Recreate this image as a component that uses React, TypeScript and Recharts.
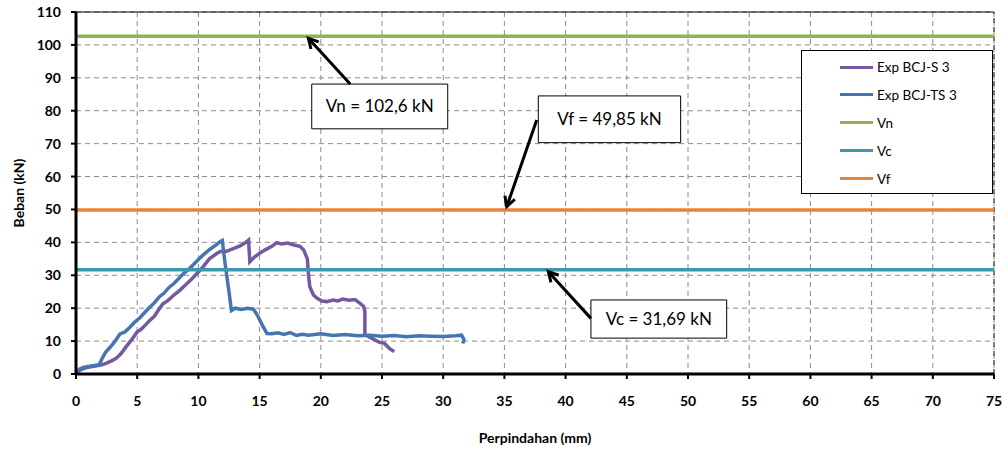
import React from 'react';
import { LineChart, Line, XAxis, YAxis, CartesianGrid, Legend, ReferenceLine, ReferenceArea, Label } from 'recharts';

const xTicks = [0, 5, 10, 15, 20, 25, 30, 35, 40, 45, 50, 55, 60, 65, 70, 75];
const yTicks = [0, 10, 20, 30, 40, 50, 60, 70, 80, 90, 100, 110];

const seriesNames = ['Exp BCJ-S 3', 'Exp BCJ-TS 3', 'Vn', 'Vc', 'Vf'];
const seriesColors = ['#7459A0', '#4676B0', '#8FB354', '#3F97AF', '#E5853C'];

const bcjS3: [number, number][] = [
  [0, 0.5], [0.4, 1.3], [0.9, 2.0], [1.3, 2.3], [1.7, 2.5], [2.1, 2.8], [2.5, 3.3], [2.9, 4.0], [3.3, 4.8],
  [3.7, 6.3], [4.1, 8.3], [4.5, 10.2], [5.0, 12.8], [5.3, 13.5], [5.7, 15.0], [6.0, 16.2], [6.4, 17.5],
  [6.8, 19.8], [7.1, 21.3], [7.5, 22.3], [8.0, 24.0], [8.5, 25.5], [9.0, 27.3], [9.5, 29.0], [9.9, 30.6],
  [10.3, 32.2], [10.6, 33.6], [10.9, 35.0], [11.2, 35.8], [11.5, 36.6], [11.8, 37.2], [12.3, 37.3],
  [12.9, 38.2], [13.4, 38.9], [13.8, 39.8], [14.1, 40.7], [14.2, 34.1], [14.6, 35.6], [15.0, 36.7],
  [15.5, 37.8], [16.0, 38.8], [16.4, 39.9], [16.8, 39.5], [17.3, 39.8], [17.8, 39.2], [18.3, 38.8],
  [18.6, 37.7], [18.9, 35.0], [19.0, 30.0], [19.1, 26.5], [19.4, 24.0], [19.7, 23.0], [20.1, 22.2],
  [20.5, 22.0], [21.0, 22.5], [21.4, 22.2], [21.8, 22.8], [22.3, 22.4], [22.8, 22.6], [23.2, 21.5],
  [23.5, 20.5], [23.6, 19.0], [23.6, 15.0], [23.6, 12.0], [24.0, 11.2], [24.5, 10.2], [24.8, 9.6],
  [25.2, 9.3], [25.6, 7.8], [26.0, 6.8],
];

const bcjTS3: [number, number][] = [
  [0, 0.7], [0.3, 1.5], [0.6, 2.0], [1.0, 2.3], [1.5, 2.6], [1.9, 2.8], [2.1, 4.5], [2.4, 6.5], [2.8, 8.2],
  [3.2, 10.0], [3.6, 12.2], [4.0, 12.8], [4.4, 14.2], [4.8, 15.8], [5.2, 17.0], [5.6, 18.6], [6.0, 20.2],
  [6.4, 21.6], [6.8, 23.4], [7.2, 24.6], [7.6, 26.3], [8.0, 27.5], [8.4, 29.0], [8.8, 30.6], [9.2, 31.8],
  [9.6, 33.3], [10.0, 34.8], [10.4, 36.2], [10.8, 37.5], [11.2, 38.6], [11.5, 39.4], [11.8, 40.3],
  [11.95, 40.6], [12.2, 33.0], [12.5, 25.0], [12.7, 19.3], [13.0, 20.0], [13.5, 19.6], [14.0, 20.0],
  [14.5, 19.7], [14.8, 18.0], [15.2, 15.0], [15.6, 12.3], [16.0, 12.2], [16.5, 12.5], [17.0, 12.0],
  [17.5, 12.6], [18.0, 11.7], [18.5, 12.1], [19.0, 11.8], [20.0, 12.2], [21.0, 11.7], [22.0, 12.0],
  [23.0, 11.6], [24.0, 11.8], [25.0, 11.5], [26.0, 11.7], [27.0, 11.3], [28.0, 11.6], [29.0, 11.5],
  [30.0, 11.4], [31.0, 11.6], [31.5, 11.8], [31.7, 10.5], [31.6, 9.3],
];

const vn = 102.6;
const vc = 31.69;
const vf = 49.85;
const xRange = [0, 75];

// annotation boxes [x1, x2, y1, y2] and arrows [xFrom, yFrom, xTo, yTo] in data units
const annotTexts = ['Vn = 102,6 kN', 'Vf = 49,85 kN', 'Vc = 31,69 kN'];
const annotBoxes = [[19.26, 30.37, 74.5, 88.1], [37.77, 49.4, 70.3, 84.5], [42.07, 53.16, 10.9, 22.5]];
const annotArrows = [[22.4, 88.1, 18.98, 102.0], [37.64, 77.2, 35.19, 50.85], [42.07, 16.9, 38.59, 31.1]];

const toPts = (arr: [number, number][]) => arr.map(([x, y]) => ({ x, y }));
const hLine = (v: number) => xRange.map((x) => ({ x, y: v }));

const seriesData = [toPts(bcjS3), toPts(bcjTS3), hLine(vn), hLine(vc), hLine(vf)];

const FONT = 'Lato, "Open Sans", sans-serif';

const Arrow = (props: any) => {
  const { x1, y1, x2, y2 } = props;
  if ([x1, y1, x2, y2].some((v) => typeof v !== 'number' || isNaN(v))) return null;
  const ang = Math.atan2(y2 - y1, x2 - x1);
  const L = 11;
  const a1 = ang + Math.PI - 0.5;
  const a2 = ang + Math.PI + 0.5;
  return (
    <g>
      <line x1={x1} y1={y1} x2={x2} y2={y2} stroke="#000" strokeWidth={3} />
      <polyline
        points={`${x2 + L * Math.cos(a1)},${y2 + L * Math.sin(a1)} ${x2},${y2} ${x2 + L * Math.cos(a2)},${y2 + L * Math.sin(a2)}`}
        fill="none"
        stroke="#000"
        strokeWidth={3}
      />
    </g>
  );
};

const renderLegend = () => (
  <div
    style={{
      width: 192,
      height: 144,
      boxSizing: 'border-box',
      border: '1px solid #000',
      background: '#fff',
      position: 'relative',
      fontFamily: FONT,
      fontSize: 13.5,
      color: '#000',
    }}
  >
    {seriesNames.map((name, i) => (
      <div
        key={name}
        style={{
          position: 'absolute',
          left: 38,
          top: 16 + i * 27.9 - 9,
          height: 18,
          display: 'flex',
          alignItems: 'center',
          whiteSpace: 'nowrap',
        }}
      >
        <span style={{ display: 'inline-block', width: 33, height: 3, background: seriesColors[i] }} />
        <span style={{ marginLeft: 4 }}>{name}</span>
      </div>
    ))}
  </div>
);

export default function App() {
  return (
    <div style={{ position: 'absolute', left: 0, top: 0, width: 1005, height: 453, background: '#fff' }}>
      <LineChart width={1005} height={453} margin={{ top: 12, right: 11, bottom: 0, left: 0 }}>
        <CartesianGrid strokeDasharray="5 4" stroke="#8c8c8c" strokeWidth={1} />
        <XAxis
          type="number"
          dataKey="x"
          domain={[0, 75]}
          ticks={xTicks}
          interval={0}
          height={79}
          axisLine={{ stroke: '#000', strokeWidth: 3 }}
          tickLine={{ stroke: '#000', strokeWidth: 2 }}
          tickSize={5}
          tickMargin={17}
          tick={{ fontFamily: FONT, fontSize: 14, fontWeight: 700, fill: '#000' }}
        >
          <Label
            value="Perpindahan (mm)"
            position="insideBottom"
            offset={10}
            style={{ fontFamily: FONT, fontSize: 14, fontWeight: 700, fill: '#000' }}
          />
        </XAxis>
        <YAxis
          type="number"
          domain={[0, 110]}
          ticks={yTicks}
          interval={0}
          width={76}
          axisLine={{ stroke: '#000', strokeWidth: 3 }}
          tickLine={{ stroke: '#000', strokeWidth: 2 }}
          tickSize={5}
          tickMargin={10}
          tick={{ fontFamily: FONT, fontSize: 14, fontWeight: 700, fill: '#000' }}
        >
          <Label
            content={(p: any) => {
              const vb = p.viewBox || {};
              const cy = vb.y + vb.height / 2;
              return (
                <text
                  x={18}
                  y={cy}
                  transform={`rotate(-90, 18, ${cy})`}
                  textAnchor="middle"
                  dominantBaseline="central"
                  style={{ fontFamily: FONT, fontSize: 14, fontWeight: 700, fill: '#000' }}
                >
                  Beban (kN)
                </text>
              );
            }}
          />
        </YAxis>
        <ReferenceLine y={110} stroke="#000" strokeWidth={1} />
        <ReferenceLine x={75} stroke="#555" strokeDasharray="5 4" strokeWidth={1.5} />
        {seriesData.map((d, i) => (
          <Line
            key={seriesNames[i]}
            data={d}
            dataKey="y"
            name={seriesNames[i]}
            stroke={seriesColors[i]}
            strokeWidth={3.5}
            dot={false}
            activeDot={false}
            isAnimationActive={false}
            type="linear"
          />
        ))}
        {annotBoxes.map((b, i) => (
          <ReferenceArea
            key={'box' + i}
            x1={b[0]}
            x2={b[1]}
            y1={b[2]}
            y2={b[3]}
            fill="#fff"
            fillOpacity={1}
            stroke="#000"
            strokeWidth={1}
            label={{ value: annotTexts[i], position: 'center', fontFamily: FONT, fontSize: 17, fill: '#000' }}
          />
        ))}
        {annotArrows.map((a, i) => (
          <ReferenceLine
            key={'arr' + i}
            segment={[{ x: a[0], y: a[1] }, { x: a[2], y: a[3] }]}
            shape={Arrow}
          />
        ))}
        <Legend
          layout="horizontal"
          verticalAlign="middle"
          align="center"
          content={renderLegend}
          wrapperStyle={{ left: 801, top: 50, width: 192, height: 144 }}
        />
      </LineChart>
    </div>
  );
}
